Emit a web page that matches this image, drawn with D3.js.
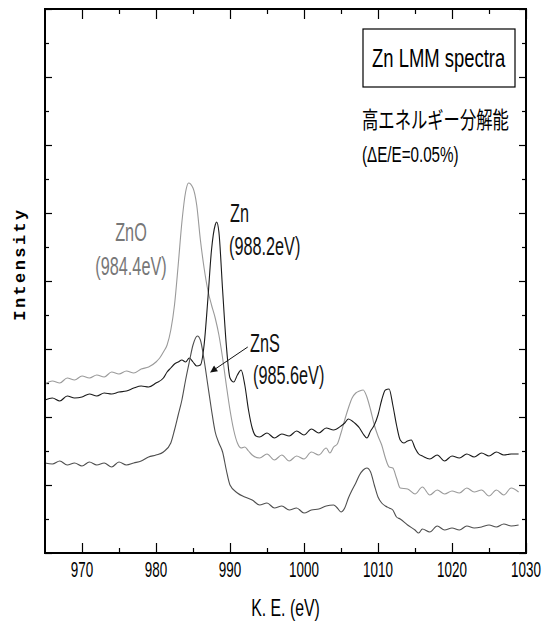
<!DOCTYPE html>
<html>
<head>
<meta charset="utf-8">
<script src="https://cdn.jsdelivr.net/npm/d3@7"></script>
<style>
  html, body { margin: 0; padding: 0; background: #fff; }
  svg { display: block; }
</style>
</head>
<body>
<svg id="chart" width="544" height="630"></svg>
<script>
// Kinetic-energy axis ticks (eV)
const xMajorTicks = [970, 980, 990, 1000, 1010, 1020, 1030];
const xTickLabels = ["970", "980", "990", "1000", "1010", "1020", "1030"];
const xMinorTicks = [975, 985, 995, 1005, 1015, 1025];

// Intensity axis: arbitrary counts, ticks every 34 counts, majors every 68
const yMajorTicks = [0, 68, 136, 204, 272, 340, 408, 476, 544];
const yMinorTicks = [34, 102, 170, 238, 306, 374, 442, 510];

// Spectra: [kinetic energy (eV), intensity (counts, offset per sample)]
const znoSpectrum = [
  [965,169],[966,172],[967,170],[968,175],[969,173],[970,177],[971,175],[972,178],
  [973,176],[974,181],[975,179],[976,182],[977,180],[978,184],[979,186],[980,191],
  [980.5,195],[981,201],[981.5,208],[982,223],[982.5,248],[983,288],[983.5,331],
  [984,361],[984.4,370],[985,365],[985.5,348],[986,313],[986.5,285],[987,263],
  [987.5,248],[988,235],[988.5,218],[989,195],[989.5,168],[990,143],[990.5,123],
  [991,110],[991.5,105],[992,106],[992.5,102],[993,98],[994,95],[995,99],[996,93],
  [997,98],[998,92],[999,97],[1000,94],[1001,101],[1002,98],[1003,105],[1003.5,100],
  [1004,106],[1004.5,109],[1005,120],[1005.5,133],[1006,145],[1006.5,155],[1007,160],
  [1007.5,162],[1008,163],[1008.5,156],[1009,143],[1009.5,128],[1010,117],[1010.5,108],
  [1011,95],[1011.5,86],[1012,85],[1012.5,75],[1013,65],[1014,64],[1015,59],[1016,66],
  [1017,58],[1018,63],[1019,59],[1020,62],[1021,60],[1022,65],[1023,61],[1024,63],
  [1025,57],[1026,63],[1027,58],[1028,65],[1029,61]
];

const znSpectrum = [
  [965,153],[966,155],[967,152],[968,157],[969,155],[970,156],[971,159],[972,157],
  [973,160],[974,159],[975,161],[976,162],[977,165],[978,167],[979,166],[980,170],
  [981,175],[981.5,181],[982,185],[982.5,189],[983,191],[983.5,193],[984,191],
  [984.5,195],[985,191],[985.5,187],[986,188],[986.5,208],[987,253],[987.5,303],
  [988,328],[988.2,331],[988.5,321],[989,263],[989.5,208],[990,175],[990.5,171],
  [991,178],[991.5,183],[992,168],[992.5,143],[993,125],[993.5,117],[994,116],
  [995,120],[996,115],[997,119],[998,117],[999,122],[1000,118],[1001,124],[1002,120],
  [1003,125],[1004,123],[1005,127],[1005.5,130],[1006,134],[1006.5,132],[1007,129],
  [1007.5,125],[1008,119],[1008.5,115],[1009,122],[1009.5,128],[1010,138],[1010.5,153],
  [1011,163],[1011.5,164],[1012,148],[1012.5,128],[1013,113],[1013.5,110],[1014,112],
  [1014.5,113],[1015,105],[1015.5,99],[1016,97],[1017,94],[1018,98],[1019,92],
  [1020,97],[1021,95],[1022,99],[1023,96],[1024,100],[1025,97],[1026,101],[1027,98],
  [1028,99],[1029,99]
];

const znsSpectrum = [
  [965,90],[966,89],[967,92],[968,88],[969,90],[970,87],[971,91],[972,88],[973,90],
  [974,86],[975,91],[976,88],[977,90],[978,92],[979,96],[980,98],[981,101],[982,110],
  [982.5,123],[983,138],[983.5,153],[984,173],[984.5,191],[985,208],[985.6,217],
  [986,213],[986.5,193],[987,168],[987.5,143],[988,121],[988.5,110],[989,101],
  [989.5,83],[990,68],[991,60],[992,56],[993,53],[994,48],[995,50],[996,45],[997,47],
  [998,43],[999,45],[1000,40],[1001,43],[1002,44],[1003,47],[1004,48],[1004.5,45],
  [1005,41],[1005.5,45],[1006,55],[1006.5,63],[1007,70],[1007.5,78],[1008,83],
  [1008.5,85],[1009,81],[1009.5,68],[1010,56],[1010.5,50],[1011,47],[1011.5,45],
  [1012,43],[1012.5,36],[1013,34],[1014,28],[1015,23],[1015.5,20],[1016,24],[1017,21],
  [1018,27],[1019,23],[1020,25],[1021,23],[1022,27],[1023,25],[1024,26],[1025,28],
  [1026,26],[1027,29],[1028,27],[1029,28]
];

const seriesNames = ["ZnO", "Zn", "ZnS"];
const seriesColors = ["#9a9a9a", "#1a1a1a", "#4e4e4e"];
const seriesData = [znoSpectrum, znSpectrum, znsSpectrum];

// Peak annotations
const peakNames = ["ZnO", "Zn", "ZnS"];
const peakEnergies = ["(984.4eV)", "(988.2eV)", "(985.6eV)"];

const titleText = "Zn LMM spectra";
const noteLines = ["高エネルギー分解能", "(ΔE/E=0.05%)"];
const xAxisTitle = "K. E. (eV)";
const yAxisTitle = "Intensity";

const svg = d3.select("#chart");
const plotLeft = 45, plotRight = 526, plotTop = 9, plotBottom = 553;

const x = d3.scaleLinear().domain([965, 1030]).range([plotLeft, plotRight]);
const y = d3.scaleLinear().domain([0, 544]).range([plotBottom, plotTop]);

const SANS = "'Liberation Sans', Arial, sans-serif";

function label(g, text, px, py, size, sx, anchor, fill, family, weight) {
  return g.append("text")
    .attr("transform", `translate(${px},${py}) scale(${sx},1)`)
    .attr("text-anchor", anchor || "start")
    .attr("font-family", family || SANS)
    .attr("font-size", size)
    .attr("font-weight", weight || "normal")
    .attr("fill", fill || "#000")
    .text(text);
}

// Axes with inward ticks on all four sides
function strip(g) { g.select(".domain").remove(); g.selectAll("text").remove(); }
svg.append("g").attr("transform", `translate(0,${plotBottom})`)
  .call(d3.axisBottom(x).tickValues(xMajorTicks).tickSize(-10)).call(strip);
svg.append("g").attr("transform", `translate(0,${plotBottom})`)
  .call(d3.axisBottom(x).tickValues(xMinorTicks).tickSize(-5)).call(strip);
svg.append("g").attr("transform", `translate(0,${plotTop})`)
  .call(d3.axisTop(x).tickValues(xMajorTicks).tickSize(-10)).call(strip);
svg.append("g").attr("transform", `translate(0,${plotTop})`)
  .call(d3.axisTop(x).tickValues(xMinorTicks).tickSize(-5)).call(strip);
svg.append("g").attr("transform", `translate(${plotLeft},0)`)
  .call(d3.axisLeft(y).tickValues(yMajorTicks).tickSize(-7)).call(strip);
svg.append("g").attr("transform", `translate(${plotLeft},0)`)
  .call(d3.axisLeft(y).tickValues(yMinorTicks).tickSize(-4)).call(strip);
svg.append("g").attr("transform", `translate(${plotRight},0)`)
  .call(d3.axisRight(y).tickValues(yMajorTicks).tickSize(-7)).call(strip);
svg.append("g").attr("transform", `translate(${plotRight},0)`)
  .call(d3.axisRight(y).tickValues(yMinorTicks).tickSize(-4)).call(strip);
svg.selectAll(".tick line").attr("stroke", "#000").attr("stroke-width", 1.2);

// Spectra
const line = d3.line()
  .x(d => x(d[0]))
  .y(d => y(d[1]))
  .curve(d3.curveMonotoneX);

svg.append("g").selectAll("path.spectrum")
  .data(seriesData)
  .join("path")
  .attr("class", "spectrum")
  .attr("fill", "none")
  .attr("stroke", (d, i) => seriesColors[i])
  .attr("stroke-width", 1.1)
  .attr("stroke-linejoin", "round")
  .attr("d", line);

// Frame
svg.append("rect")
  .attr("x", plotLeft).attr("y", plotTop)
  .attr("width", plotRight - plotLeft).attr("height", plotBottom - plotTop)
  .attr("fill", "none").attr("stroke", "#000").attr("stroke-width", 2);

// Tick labels
const tl = svg.append("g");
xMajorTicks.forEach((v, i) => label(tl, xTickLabels[i], x(v), 577, 22, 0.61, "middle"));

// Axis titles
label(svg, xAxisTitle, (plotLeft + plotRight) / 2, 616, 24, 0.66, "middle");
svg.append("text")
  .attr("transform", `translate(25,${(plotTop + plotBottom) / 2 - 17}) rotate(-90)`)
  .attr("text-anchor", "middle")
  .attr("font-family", "'Liberation Mono', 'DejaVu Sans Mono', monospace")
  .attr("font-weight", "bold")
  .attr("font-size", 17)
  .attr("letter-spacing", 2.4)
  .attr("fill", "#000")
  .text(yAxisTitle);

// Peak labels
const ann = svg.append("g");
label(ann, peakNames[0], 131, 241, 25, 0.65, "middle", "#777");
label(ann, peakEnergies[0], 131, 275, 25, 0.65, "middle", "#777");
label(ann, peakNames[1], 230, 222, 25, 0.65, "start", "#111");
label(ann, peakEnergies[1], 229, 255, 25, 0.65, "start", "#111");
label(ann, peakNames[2], 250, 352, 25, 0.65, "start", "#111");
label(ann, peakEnergies[2], 253, 384, 25, 0.65, "start", "#111");

// Arrow pointing at the ZnS peak
svg.append("defs").append("marker")
  .attr("id", "head").attr("viewBox", "0 0 10 10")
  .attr("refX", 9).attr("refY", 5)
  .attr("markerWidth", 9).attr("markerHeight", 7)
  .attr("markerUnits", "userSpaceOnUse")
  .attr("orient", "auto")
  .append("path").attr("d", "M0,0 L10,5 L0,10 z").attr("fill", "#111");
svg.append("line")
  .attr("x1", x(992.4)).attr("y1", y(206))
  .attr("x2", x(987.4)).attr("y2", y(181))
  .attr("stroke", "#111").attr("stroke-width", 1)
  .attr("marker-end", "url(#head)");

// Title box and resolution note
svg.append("rect")
  .attr("x", 363).attr("y", 29).attr("width", 152).attr("height", 58)
  .attr("fill", "#fff").attr("stroke", "#000").attr("stroke-width", 1.2);
label(svg, titleText, 372, 67, 26, 0.71, "start");
label(svg, noteLines[0], 362, 128, 23, 0.71, "start", "#000", "'Noto Sans CJK JP', sans-serif");
label(svg, noteLines[1], 362, 162, 22, 0.69, "start");
</script>
</body>
</html>
